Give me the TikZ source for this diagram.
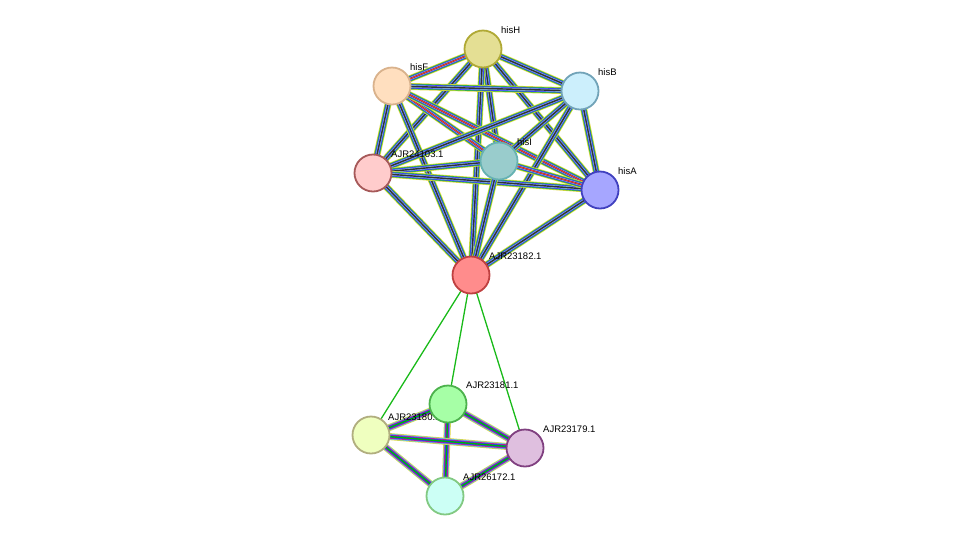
\documentclass[tikz,border=0pt]{standalone}
\usepackage{fontspec}
\setmainfont{Liberation Sans}
\begin{document}
\begin{tikzpicture}[x=1pt,y=-1pt,
  nd/.style={circle,minimum size=37pt,inner sep=0pt,line width=1.8pt},
  lb/.style={font=\fontsize{9.5}{10}\selectfont,anchor=south west,inner sep=1pt},
  multi/.style={}]
\useasboundingbox (0,0) rectangle (975,542);
\def\medge#1#2{%
  \draw[line width=7pt,draw=yellow!60!olive!70] (#1) -- (#2);
  \draw[line width=5.6pt,draw=green!70!black!80] (#1) -- (#2);
  \draw[line width=4.2pt,draw=blue!80] (#1) -- (#2);
  \draw[line width=2.8pt,draw=cyan!60!blue!50] (#1) -- (#2);
  \draw[line width=1.4pt,draw=black!80] (#1) -- (#2);}
\def\redge#1#2{\medge{#1}{#2}\draw[line width=1pt,draw=red!80] (#1) -- (#2);}
\def\bedge#1#2{%
  \draw[line width=7pt,draw=yellow!60!olive!70] (#1) -- (#2);
  \draw[line width=5.6pt,draw=cyan!70] (#1) -- (#2);
  \draw[line width=4.2pt,draw=magenta!80!violet] (#1) -- (#2);
  \draw[line width=2.8pt,draw=blue!80] (#1) -- (#2);
  \draw[line width=1.4pt,draw=green!70!black] (#1) -- (#2);}
\def\gedge#1#2{\draw[line width=1.3pt,draw=green!70!black!90] (#1) -- (#2);}
\coordinate (H) at (483,49); \coordinate (F) at (392,86); \coordinate (B) at (580,91);
\coordinate (R) at (373,173); \coordinate (I) at (499,161); \coordinate (A) at (600,190);
\coordinate (C) at (471,275); \coordinate (D) at (448,404); \coordinate (L) at (371,435);
\coordinate (E) at (525,448); \coordinate (K) at (445,496);
\redge{H}{F}\medge{H}{B}\medge{H}{R}\medge{H}{I}\medge{H}{A}\medge{H}{C}
\medge{F}{B}\medge{F}{R}\redge{F}{I}\redge{F}{A}\medge{F}{C}
\medge{B}{R}\medge{B}{I}\medge{B}{A}\medge{B}{C}
\medge{R}{I}\medge{R}{A}\medge{R}{C}
\redge{I}{A}\medge{I}{C}\medge{A}{C}
\gedge{C}{L}\gedge{C}{D}\gedge{C}{E}
\bedge{D}{L}\bedge{D}{E}\bedge{D}{K}\bedge{L}{E}\bedge{L}{K}\bedge{E}{K}
\node[nd,fill=yellow!30!olive!35!white,draw=olive!70] (nH) at (H) {};
\node[nd,fill=orange!25,draw=brown!60!white] (nF) at (F) {};
\node[nd,fill=cyan!20,draw=cyan!40!gray] (nB) at (B) {};
\node[nd,fill=red!20,draw=red!30!gray] (nR) at (R) {};
\node[nd,fill=teal!40!white,draw=teal!60!white] (nI) at (I) {};
\node[nd,fill=blue!35!white,draw=blue!50!gray] (nA) at (A) {};
\node[nd,fill=red!45,draw=red!50!gray] (nC) at (C) {};
\node[nd,fill=lime!25,draw=olive!40!gray!70] (nL) at (L) {};
\node[lb] (tL) at (387,422) {AJR23180.1};
\node[nd,fill=green!35!white,draw=green!40!gray] (nD) at (D) {};
\node[nd,fill=violet!25,draw=violet!50!gray] (nE) at (E) {};
\node[nd,fill=green!20!cyan!20,draw=green!40!gray!70] (nK) at (K) {};
\node[lb] at (500,35) {hisH};
\node[lb] at (409,72) {hisF};
\node[lb] at (597,77) {hisB};
\node[lb] at (390,159) {AJR24103.1};
\node[lb] at (516,147) {hisI};
\node[lb] at (617,176) {hisA};
\node[lb] at (488,261) {AJR23182.1};
\node[lb] at (465,390) {AJR23181.1};
\node[lb] at (542,434) {AJR23179.1};
\node[lb] at (462,482) {AJR26172.1};
\end{tikzpicture}
\end{document}
